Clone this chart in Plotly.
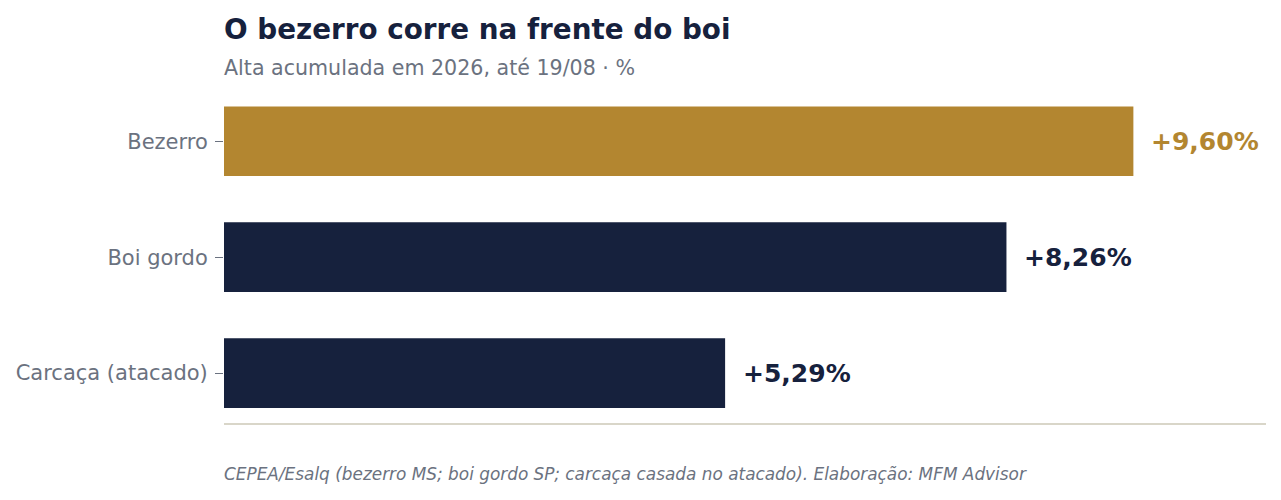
import plotly.graph_objects as go

# dados
categorias = ["Carcaça (atacado)", "Boi gordo", "Bezerro"]
altas = [5.29, 8.26, 9.60]
rotulos = ["+5,29%", "+8,26%", "+9,60%"]
cores = ["#16213d", "#16213d", "#b38630"]

titulo = "O bezerro corre na frente do boi"
subtitulo = "Alta acumulada em 2026, até 19/08 · %"
fonte = "CEPEA/Esalq (bezerro MS; boi gordo SP; carcaça casada no atacado). Elaboração: MFM Advisor"

NAVY = "#16213d"
CINZA = "#6b7280"

fig = go.Figure()
fig.add_trace(go.Bar(
    x=altas, y=categorias, orientation="h",
    marker=dict(color=cores, line=dict(width=0)),
    width=0.6, hoverinfo="skip",
))

# rótulos de valor à direita das barras
for cat, v, txt, c in zip(categorias, altas, rotulos, cores):
    fig.add_annotation(
        x=v, y=cat, text="<b>" + txt + "</b>", showarrow=False,
        xanchor="left", xshift=16, font=dict(size=25, color=c),
    )

fig.add_annotation(
    x=0, y=1.063, xref="paper", yref="paper", text=subtitulo,
    showarrow=False, xanchor="left", yanchor="middle", xshift=-2,
    font=dict(size=20.6, color=CINZA),
)
fig.add_annotation(
    x=0, y=-0.153, xref="paper", yref="paper", text="<i>" + fonte + "</i>",
    showarrow=False, xanchor="left", yanchor="middle", xshift=-2,
    font=dict(size=16.9, color=CINZA),
)

# a página tem 8px de margem no body: compensado aqui
fig.update_layout(
    width=1265, height=484,
    margin=dict(l=216, r=7, t=81, b=69),
    paper_bgcolor="white", plot_bgcolor="white",
    font=dict(family="DejaVu Sans", color=CINZA),
    showlegend=False,
    title=dict(
        text="<b>" + titulo + "</b>", x=0, xref="paper", xanchor="left",
        y=1 - 21 / 484, yref="container", yanchor="middle",
        font=dict(size=27.8, color=NAVY),
    ),
    xaxis=dict(
        range=[0, 11], showgrid=False, zeroline=False, showticklabels=False,
        showline=True, linecolor="#d9d6c9", linewidth=2, ticks="",
    ),
    yaxis=dict(
        range=[-0.43, 2.45], showgrid=False, zeroline=False,
        ticks="outside", ticklen=8, tickcolor=CINZA, tickwidth=1,
        ticklabelstandoff=3,
        tickfont=dict(size=21, color=CINZA), showline=False,
    ),
)

fig.write_html("out.html")
